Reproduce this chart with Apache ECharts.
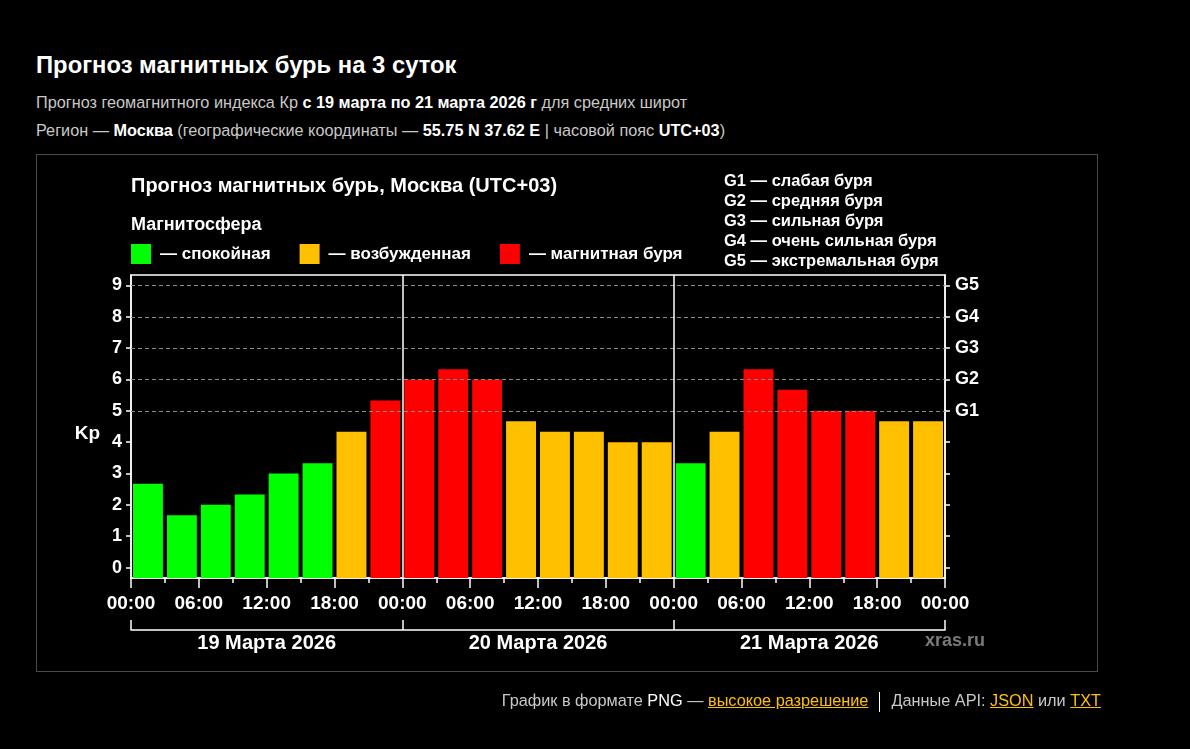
<!DOCTYPE html>
<html><head><meta charset="utf-8">
<script src="https://cdn.jsdelivr.net/npm/echarts@6/dist/echarts.min.js"></script>
<style>
html,body{margin:0;padding:0;background:#000;width:1190px;height:749px;overflow:hidden;font-family:"Liberation Sans",Arial,sans-serif;}
#box{position:absolute;left:36px;top:154px;width:1060px;height:516px;border:1px solid #4a4a4a;}
#chart{position:absolute;left:0;top:0;width:1190px;height:749px;}
.h1{position:absolute;left:36px;top:51px;font-size:23.8px;font-weight:bold;color:#fff;white-space:nowrap;}
.sub{position:absolute;left:36px;font-size:16.25px;color:#c8c8c8;white-space:nowrap;}
.sub b{color:#fff}
.foot{position:absolute;right:89px;top:691px;font-size:16.3px;color:#c8c8c8;white-space:nowrap;}
.foot a{color:#ffc000;text-decoration:underline}
.foot .w{color:#fff}
.foot .sep{display:inline-block;width:1px;height:20px;background:#fff;vertical-align:middle;margin:0 11px 0 11px;}
</style></head>
<body>
<div class="h1">Прогноз магнитных бурь на 3 суток</div>
<div class="sub" style="top:93px">Прогноз геомагнитного индекса Кр <b>с 19 марта по 21 марта 2026 г</b> для средних широт</div>
<div class="sub" style="top:121px">Регион — <b>Москва</b> (географические координаты — <b>55.75 N 37.62 E</b> | часовой пояс <b>UTC+03</b>)</div>
<div id="box"></div>
<div id="chart"></div>
<div class="foot">График в формате <span class="w">PNG</span> — <a href="#">высокое разрешение</a><span class="sep"></span>Данные API: <a href="#">JSON</a> или <a href="#">TXT</a></div>
<script>
// ---- data ----
const days = ['19 Марта 2026', '20 Марта 2026', '21 Марта 2026'];
const kp = [2.67, 1.67, 2.00, 2.33, 3.00, 3.33, 4.33, 5.33,
            6.00, 6.33, 6.00, 4.67, 4.33, 4.33, 4.00, 4.00,
            3.33, 4.33, 6.33, 5.67, 5.00, 5.00, 4.67, 4.67];
const stepHours = 3;
const timeLabels = ['00:00', '06:00', '12:00', '18:00'];
const kpTicks = [0, 1, 2, 3, 4, 5, 6, 7, 8, 9];
const gValues = [5, 6, 7, 8, 9];
const gLabels = ['G1', 'G2', 'G3', 'G4', 'G5'];
const gLegend = ['G1 — слабая буря', 'G2 — средняя буря', 'G3 — сильная буря', 'G4 — очень сильная буря', 'G5 — экстремальная буря'];
const stateNames = ['— спокойная', '— возбужденная', '— магнитная буря'];
const stateColors = ['#00ff00', '#ffc000', '#ff0000'];
const stateLimits = [4, 5];

const Y_MIN = -1 / 3, Y_MAX = 9 + 1 / 3;
function colorFor(v) { return v < stateLimits[0] ? stateColors[0] : (v < stateLimits[1] ? stateColors[1] : stateColors[2]); }

const barData = kp.map((v, i) => [i * stepHours, v]);
const chart = echarts.init(document.getElementById('chart'), null, {renderer: 'canvas'});
const bold = {color: '#fff', fontWeight: 'bold', fontFamily: '"Liberation Sans", Arial, sans-serif'};

const option = {
  animation: false,
  backgroundColor: 'transparent',
  title: [
    {text: 'Прогноз магнитных бурь, Москва (UTC+03)', left: 131, top: 176, padding: 0, textStyle: Object.assign({fontSize: 20}, bold)},
    {text: 'Магнитосфера', left: 131, top: 216, padding: 0, textStyle: Object.assign({fontSize: 18}, bold)}
  ],
  legend: {
    left: 131, top: 244, padding: 0, itemWidth: 20, itemHeight: 20, itemGap: 29,
    data: stateNames.map(n => ({name: n, icon: 'rect'})),
    textStyle: Object.assign({fontSize: 17, padding: [0, 0, 0, 4]}, bold),
    selectedMode: false
  },
  grid: {left: 131, right: 245, top: 275, bottom: 171, show: true, borderColor: '#fff', borderWidth: 1.5, containLabel: false},
  xAxis: [
    {type: 'value', min: 0, max: 72, interval: 6, position: 'bottom',
     axisLine: {show: true, onZero: false, lineStyle: {color: '#fff', width: 1.5}},
     axisTick: {show: true, length: 10, lineStyle: {color: '#fff', width: 1.5}},
     minorTick: {show: true, splitNumber: 2, length: 5, lineStyle: {color: '#fff', width: 1.5}},
     axisLabel: Object.assign({fontSize: 19, margin: 16, showMaxLabel: true, showMinLabel: true,
       formatter: v => timeLabels[Math.round(v / 6) % 4]}, bold),
     splitLine: {show: false}, minorSplitLine: {show: false}},
    {type: 'category', data: days, position: 'bottom', offset: 52,
     axisLine: {show: true, onZero: false, lineStyle: {color: '#fff', width: 1.5}},
     axisTick: {show: true, inside: true, length: 10, interval: 0, lineStyle: {color: '#fff', width: 1.5}},
     axisLabel: Object.assign({fontSize: 20, margin: 3}, bold),
     splitLine: {show: false}}
  ],
  yAxis: [
    {type: 'value', min: Y_MIN, max: Y_MAX, position: 'left',
     axisLine: {show: true, onZero: false, lineStyle: {color: '#fff', width: 1.5}},
     axisTick: {show: true, customValues: kpTicks, length: 5, lineStyle: {color: '#fff', width: 1.5}},
     axisLabel: Object.assign({fontSize: 18, margin: 9, customValues: kpTicks}, bold),
     splitLine: {show: false},
     name: 'Kp', nameLocation: 'middle', nameRotate: 0, nameGap: 31,
     nameTextStyle: Object.assign({fontSize: 19, align: 'right', verticalAlign: 'top', lineHeight: 14}, bold)},
    {type: 'value', min: Y_MIN, max: Y_MAX, position: 'right',
     axisLine: {show: true, onZero: false, lineStyle: {color: '#fff', width: 1.5}},
     axisTick: {show: true, customValues: kpTicks, length: 5, lineStyle: {color: '#fff', width: 1.5}},
     axisLabel: Object.assign({fontSize: 18, margin: 10, customValues: gValues,
       formatter: v => gLabels[gValues.indexOf(Math.round(v))] || ''}, bold),
     splitLine: {show: false}}
  ],
  graphic: [
    {type: 'text', left: 724, top: 171, silent: true,
     style: {text: gLegend.join('\n'), fill: '#fff', font: 'bold 16.5px "Liberation Sans", Arial, sans-serif', lineHeight: 20}},
    {type: 'text', left: 925, top: 632, silent: true,
     style: {text: 'xras.ru', fill: '#7a7a7a', font: 'bold 18px "Liberation Sans", Arial, sans-serif'}}
  ],
  series: [
    {type: 'custom', name: 'Kp', xAxisIndex: 0, yAxisIndex: 0, data: barData, encode: {x: 0, y: 1},
     renderItem: function (params, api) {
       const x0 = api.value(0), v = api.value(1);
       const tl = api.coord([x0, v]);
       const br = api.coord([x0 + stepHours, Y_MIN]);
       return {type: 'rect', shape: {x: tl[0] + 2, y: tl[1], width: br[0] - tl[0] - 4, height: br[1] - tl[1]},
               style: {fill: colorFor(v)}};
     }, z: 2},
    {type: 'line', name: 'guides', xAxisIndex: 0, yAxisIndex: 0, data: [], silent: true, z: 3,
     markLine: {symbol: 'none', silent: true, label: {show: false}, animation: false,
       data: gValues.map(g => ({yAxis: g, lineStyle: {color: '#8a8a8a', type: [4, 3], width: 1}}))
         .concat([24, 48].map(h => ({xAxis: h, lineStyle: {color: '#fff', type: 'solid', width: 1.5}})))}},
    ...stateNames.map((n, i) => ({type: 'custom', name: n, data: [], itemStyle: {color: stateColors[i]},
      renderItem: () => null}))
  ]
};
chart.setOption(option);
</script>
</body></html>
